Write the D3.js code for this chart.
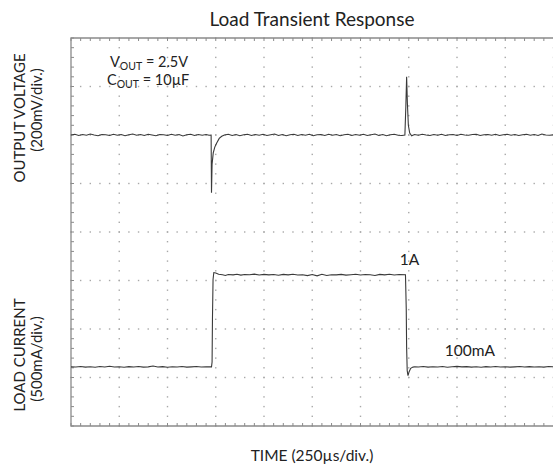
<!DOCTYPE html>
<html>
<head>
<meta charset="utf-8">
<script src="https://cdn.jsdelivr.net/npm/d3@7"></script>
<style>
  body { margin: 0; background: #fff; }
  text { font-family: Lato, "Open Sans", sans-serif; fill: #222; }
</style>
</head>
<body>
<div id="chart"></div>
<script>
// time in us, output voltage deviation in mV
var voltageTrace = [
  [0,0],[20,3],[40,-2],[60,2],[80,-1],[100,4],[120,0],[140,-3],[160,2],[180,1],
  [200,-2],[220,3],[240,-1],[260,2],[280,-3],[300,1],[320,4],[340,-1],[360,2],[380,-2],
  [400,3],[420,0],[440,-3],[460,2],[480,1],[500,-2],[520,3],[540,-1],[560,2],[580,-4],
  [600,1],[620,3],[640,-2],[660,2],[680,-1],[700,2],[715,-1],[726,0],
  [728,-238],[731,-120],[737,-74],[745,-50],[755,-33],[768,-14],[781,-5],[795,0],
  [815,3],[835,-2],[855,2],[875,-3],[895,1],[915,3],[935,-2],[955,2],[975,-1],
  [995,3],[1015,-2],[1035,1],[1055,4],[1075,-2],[1095,2],[1115,-3],[1135,1],[1155,3],
  [1175,-2],[1195,2],[1215,-1],[1235,3],[1255,-3],[1275,1],[1295,2],[1315,-2],[1335,3],
  [1355,-1],[1375,2],[1395,-3],[1415,1],[1435,3],[1455,-2],[1475,2],[1495,-1],[1515,3],
  [1535,-2],[1555,1],[1575,4],[1595,-2],[1615,2],[1635,-3],[1655,1],[1675,3],[1695,-1],
  [1715,-2],[1730,0],[1735,120],[1739,240],[1743,130],[1748,40],[1755,8],[1765,-3],
  [1780,2],[1800,-1],[1820,3],[1840,0],[1860,-2],[1880,2],[1900,-1],[1920,3],[1940,-2],
  [1960,1],[1980,2],[2000,-2],[2020,3],[2040,0],[2060,-1],[2080,2],[2100,3],[2120,-2],
  [2140,1],[2160,2],[2180,-1],[2200,3],[2220,-2],[2240,1],[2260,3],[2280,-1],[2300,2],
  [2320,-2],[2340,1],[2360,3],[2380,-1],[2400,2],[2420,-2],[2440,4],[2460,0],[2480,-1],[2500,1]
];

// time in us, load current in mA
var currentTrace = [
  [0,100],[25,98],[50,104],[75,97],[100,101],[125,95],[150,103],[175,99],[200,106],
  [225,98],[250,101],[275,96],[300,102],[325,99],[350,104],[375,97],[400,100],[425,108],
  [450,98],[475,102],[500,96],[525,101],[550,99],[575,104],[600,97],[625,100],[650,103],
  [675,98],[700,101],[728,100],[731,150],[733,600],[736,1000],[740,1072],[750,1068],
  [765,1055],[785,1050],[800,1042],[815,1052],[840,1048],[860,1054],[880,1046],[900,1052],
  [925,1049],[950,1056],[975,1047],[1000,1053],[1025,1048],[1050,1052],[1075,1044],
  [1100,1053],[1125,1048],[1150,1055],[1175,1046],[1200,1050],[1225,1040],[1250,1052],
  [1275,1038],[1300,1054],[1325,1042],[1350,1050],[1375,1048],[1400,1053],[1425,1045],
  [1450,1050],[1475,1054],[1500,1046],[1525,1052],[1550,1049],[1575,1042],[1600,1053],
  [1625,1048],[1650,1055],[1675,1046],[1700,1052],[1733,1050],[1737,700],[1739,300],
  [1742,60],[1746,10],[1752,50],[1760,85],[1772,97],[1781,100],[1800,98],[1825,103],
  [1850,97],[1875,101],[1900,99],[1925,104],[1950,96],[1975,101],[2000,105],[2025,100],
  [2050,102],[2075,97],[2100,101],[2125,95],[2150,102],[2175,98],[2200,103],[2225,99],
  [2250,101],[2275,97],[2300,100],[2325,104],[2350,98],[2375,102],[2400,99],[2425,101],
  [2450,97],[2475,103],[2500,100]
];

var divsX = d3.range(0, 11);
var divsY = d3.range(0, 9);
var minorX = d3.range(0, 50.01, 1).map(function (d) { return d / 5; });
var minorY = d3.range(0, 40.01, 1).map(function (d) { return d / 5; });

var notes = [
  { x: 399.7, y: 265, text: "1A" },
  { x: 444.7, y: 356, text: "100mA" }
];

var options = { w: 553, h: 471, left: 71, top: 38, right: 553.5, bottom: 426 };

var svg = d3.select("#chart").append("svg")
  .attr("width", options.w)
  .attr("height", options.h);

var gx = d3.scaleLinear().domain([0, 10]).range([options.left, options.right]);
var gy = d3.scaleLinear().domain([0, 8]).range([options.top, options.bottom]);
var x = d3.scaleLinear().domain([0, 2500]).range([options.left, options.right]);
// 200mV/div, 0 offset on division 2
var yV = d3.scaleLinear().domain([400, -1200]).range([options.top, options.bottom]);
// 500mA/div
var yI = d3.scaleLinear().domain([3490, -510]).range([options.top, options.bottom]);

// dotted grid: one dot at every minor division
var grid = svg.append("g").attr("fill", "#a8a8a8");
divsY.slice(1, 8).forEach(function (r) {
  grid.selectAll(null)
    .data(minorX)
    .enter()
    .append("rect")
    .attr("x", function (d) { return gx(d) - 0.7; })
    .attr("y", gy(r) - 0.7)
    .attr("width", 1.4)
    .attr("height", 1.4);
});
divsX.slice(1).forEach(function (c) {
  grid.selectAll(null)
    .data(minorY)
    .enter()
    .append("rect")
    .attr("x", gx(c) - 0.7)
    .attr("y", function (d) { return gy(d) - 0.7; })
    .attr("width", 1.4)
    .attr("height", 1.4);
});

// frame (top, left, bottom) with minor ticks
var frame = svg.append("g").attr("stroke", "#8a8a8a").attr("stroke-width", 1.3).attr("fill", "none");
frame.append("path")
  .attr("d", "M" + options.w + "," + gy(0) + "H" + gx(0) + "V" + gy(8) + "H" + options.w);

frame.selectAll("line.top")
  .data(minorX)
  .enter()
  .append("line")
  .attr("stroke-width", 1)
  .attr("x1", gx).attr("x2", gx)
  .attr("y1", gy(0)).attr("y2", gy(0) + 3);
frame.selectAll("line.bottom")
  .data(minorX)
  .enter()
  .append("line")
  .attr("stroke-width", 1)
  .attr("x1", gx).attr("x2", gx)
  .attr("y1", gy(8)).attr("y2", gy(8) - 3);
frame.selectAll("line.left")
  .data(minorY)
  .enter()
  .append("line")
  .attr("stroke-width", 1)
  .attr("x1", gx(0)).attr("x2", gx(0) + 3)
  .attr("y1", gy).attr("y2", gy);

// traces
var lineV = d3.line()
  .x(function (d) { return x(d[0]); })
  .y(function (d) { return yV(d[1]); });
var lineI = d3.line()
  .x(function (d) { return x(d[0]); })
  .y(function (d) { return yI(d[1]); });

svg.append("path")
  .datum(voltageTrace)
  .attr("d", lineV)
  .attr("fill", "none")
  .attr("stroke", "#3a3a3a")
  .attr("stroke-width", 1.1);
svg.append("path")
  .datum(currentTrace)
  .attr("d", lineI)
  .attr("fill", "none")
  .attr("stroke", "#3a3a3a")
  .attr("stroke-width", 1.1);

// title
svg.append("text")
  .attr("x", 312)
  .attr("y", 26)
  .attr("text-anchor", "middle")
  .attr("font-size", "19px")
  .text("Load Transient Response");

// test conditions
var cond = [
  { x: 110, y: 67, main: "V", sub: "OUT", rest: " = 2.5V" },
  { x: 107, y: 85, main: "C", sub: "OUT", rest: " = 10µF" }
];
cond.forEach(function (c) {
  var t = svg.append("text")
    .attr("x", c.x)
    .attr("y", c.y)
    .attr("font-size", "14.5px");
  t.append("tspan").text(c.main);
  t.append("tspan").attr("font-size", "10.5px").attr("dy", 3).text(c.sub);
  t.append("tspan").attr("dy", -3).text(c.rest);
});

// level labels
svg.selectAll("text.note")
  .data(notes)
  .enter()
  .append("text")
  .attr("class", "note")
  .attr("x", function (d) { return d.x; })
  .attr("y", function (d) { return d.y; })
  .attr("font-size", "15.5px")
  .text(function (d) { return d.text; });

// axis titles
var yLabels = [
  { x: 25, y: 118, text: "OUTPUT VOLTAGE" },
  { x: 42, y: 110, text: "(200mV/div.)" },
  { x: 25, y: 355, text: "LOAD CURRENT" },
  { x: 42, y: 359, text: "(500mA/div.)" }
];
svg.selectAll("text.ylab")
  .data(yLabels)
  .enter()
  .append("text")
  .attr("class", "ylab")
  .attr("transform", function (d) { return "translate(" + d.x + "," + d.y + ") rotate(-90)"; })
  .attr("text-anchor", "middle")
  .attr("font-size", "15px")
  .text(function (d) { return d.text; });

svg.append("text")
  .attr("x", 312)
  .attr("y", 461)
  .attr("text-anchor", "middle")
  .attr("font-size", "15.5px")
  .text("TIME (250µs/div.)");
</script>
</body>
</html>
